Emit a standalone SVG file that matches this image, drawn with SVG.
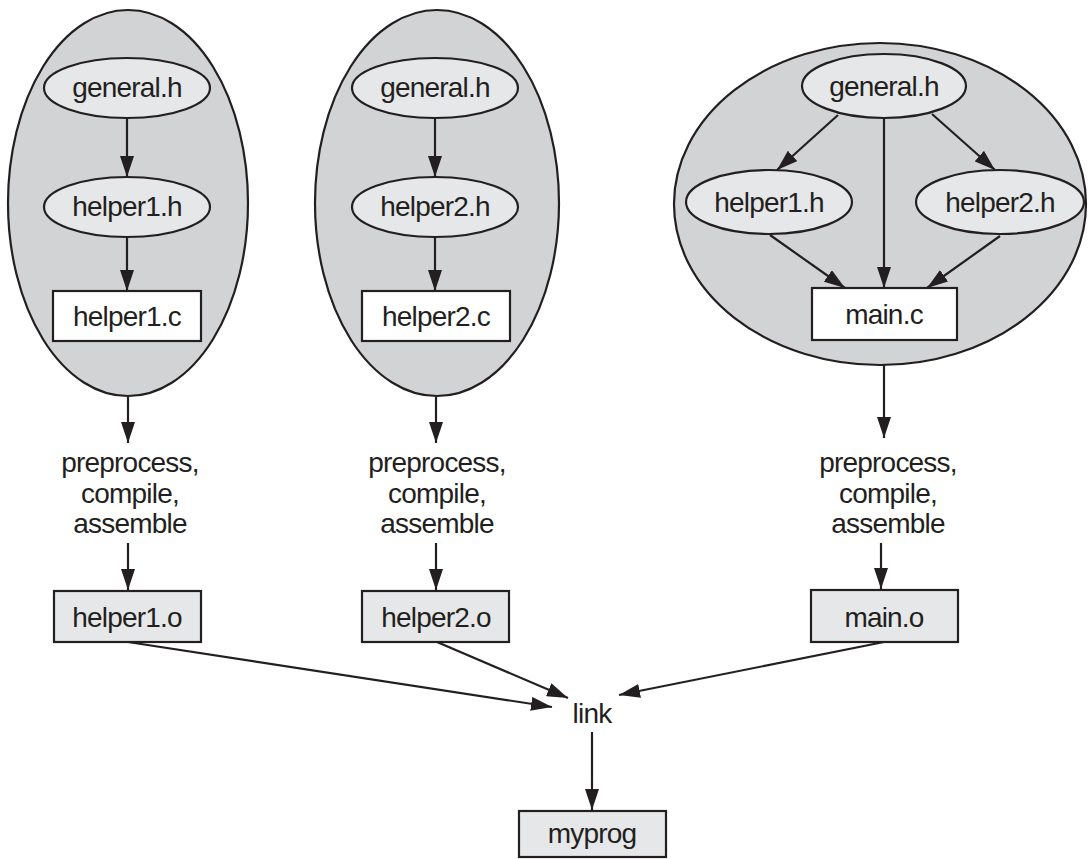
<svg xmlns="http://www.w3.org/2000/svg" width="1088" height="859" viewBox="0 0 1088 859">
<defs>
<marker id="ah" markerUnits="userSpaceOnUse" markerWidth="21" markerHeight="14" refX="21" refY="7" orient="auto">
<path d="M0,0 L21,7 L0,14 z" fill="#231f20"/>
</marker>
<style>
.big{fill:#d1d3d4;stroke:#231f20;stroke-width:2.2}
.hdr{fill:#e6e7e8;stroke:#231f20;stroke-width:2.2}
.src{fill:#ffffff;stroke:#231f20;stroke-width:2.2}
.obj{fill:#e6e7e8;stroke:#231f20;stroke-width:2.2}
.t{font-family:"Liberation Sans",Arial,sans-serif;font-size:28px;letter-spacing:-0.8px;fill:#231f20;text-anchor:middle}
.c line{stroke:#231f20;stroke-width:2.2;marker-end:url(#ah)}
</style>
</defs>
<rect width="1088" height="859" fill="#ffffff"/>

<g id="group1">
<ellipse class="big" cx="128" cy="203" rx="120" ry="193"/>
</g>
<g id="group2">
<ellipse class="big" cx="437" cy="203" rx="122" ry="193"/>
</g>
<g id="group3">
<ellipse class="big" cx="880" cy="204" rx="206" ry="161"/>
</g>

<g class="c" id="connectors">
<line x1="127" y1="118" x2="127" y2="177"/>
<line x1="127" y1="237" x2="127" y2="291"/>
<line x1="128" y1="397" x2="128" y2="443"/>
<line x1="128" y1="543" x2="128" y2="590"/>
<line x1="435" y1="118" x2="435" y2="177"/>
<line x1="435" y1="237" x2="435" y2="291"/>
<line x1="436" y1="397" x2="436" y2="443"/>
<line x1="436" y1="543" x2="436" y2="590"/>
<line x1="838" y1="115" x2="777" y2="170"/>
<line x1="884" y1="118" x2="884" y2="288"/>
<line x1="932" y1="114" x2="995" y2="170"/>
<line x1="770" y1="235" x2="845" y2="288"/>
<line x1="1000" y1="236" x2="927" y2="288"/>
<line x1="884" y1="365" x2="884" y2="438"/>
<line x1="881" y1="543" x2="881" y2="589"/>
<line x1="128" y1="642" x2="552" y2="707"/>
<line x1="437" y1="642" x2="568" y2="698"/>
<line x1="884" y1="642" x2="619" y2="695"/>
<line x1="592" y1="732" x2="592" y2="810"/>
</g>

<g id="general1"><ellipse class="hdr" cx="127" cy="88" rx="83" ry="30"/><text class="t" x="127" y="97">general.h</text></g>
<g id="helper1h"><ellipse class="hdr" cx="127" cy="207" rx="83" ry="30"/><text class="t" x="127" y="216">helper1.h</text></g>
<g id="helper1c"><rect class="src" x="53" y="291" width="148" height="50"/><text class="t" x="127" y="326">helper1.c</text></g>

<g id="general2"><ellipse class="hdr" cx="435" cy="88" rx="83" ry="30"/><text class="t" x="435" y="97">general.h</text></g>
<g id="helper2h"><ellipse class="hdr" cx="435" cy="207" rx="83" ry="30"/><text class="t" x="435" y="216">helper2.h</text></g>
<g id="helper2c"><rect class="src" x="362" y="291" width="148" height="50"/><text class="t" x="436" y="326">helper2.c</text></g>

<g id="general3"><ellipse class="hdr" cx="884" cy="86" rx="82" ry="32"/><text class="t" x="884" y="96">general.h</text></g>
<g id="helper1h3"><ellipse class="hdr" cx="769" cy="202" rx="83" ry="32"/><text class="t" x="769" y="212">helper1.h</text></g>
<g id="helper2h3"><ellipse class="hdr" cx="1000" cy="202" rx="84" ry="32"/><text class="t" x="1000" y="212">helper2.h</text></g>
<g id="mainc"><rect class="src" x="812" y="288" width="145" height="52"/><text class="t" x="884" y="324">main.c</text></g>

<g id="step1"><text class="t" x="130" y="472">preprocess,</text><text class="t" x="130" y="503">compile,</text><text class="t" x="130" y="533">assemble</text></g>
<g id="step2"><text class="t" x="437" y="472">preprocess,</text><text class="t" x="437" y="503">compile,</text><text class="t" x="437" y="533">assemble</text></g>
<g id="step3"><text class="t" x="888" y="472">preprocess,</text><text class="t" x="888" y="503">compile,</text><text class="t" x="888" y="533">assemble</text></g>

<g id="helper1o"><rect class="obj" x="54" y="591" width="147" height="51"/><text class="t" x="127" y="627">helper1.o</text></g>
<g id="helper2o"><rect class="obj" x="362" y="591" width="147" height="51"/><text class="t" x="436" y="627">helper2.o</text></g>
<g id="maino"><rect class="obj" x="811" y="590" width="147" height="52"/><text class="t" x="884" y="627">main.o</text></g>

<g id="link"><text class="t" x="592" y="723">link</text></g>
<g id="myprog"><rect class="obj" x="519" y="811" width="147" height="46"/><text class="t" x="592" y="843">myprog</text></g>
</svg>
